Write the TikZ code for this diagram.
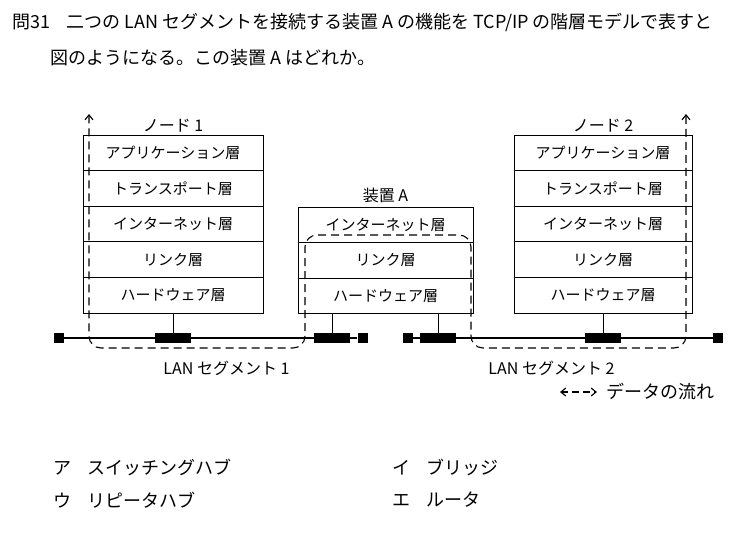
\documentclass[tikz,border=0pt]{standalone}
\usepackage{fontspec}
\setmainfont{Noto Sans CJK JP}
\usetikzlibrary{positioning,arrows.meta}
\tikzset{
  layer/.style={draw, minimum width=180pt, minimum height=35.6pt, inner sep=0pt,
    font=\fontsize{15}{15}\selectfont},
  tap/.style={fill=black, minimum width=36pt, minimum height=10pt, inner sep=0pt},
  stub/.style={fill=black, minimum size=10pt, inner sep=0pt},
  flow/.style={dash pattern=on 8pt off 5pt, line width=1.1pt,
    arrows={Straight Barb[length=5pt,width=8pt]-Straight Barb[length=5pt,width=8pt]}},
  bus/.style={line width=1.6pt},
  txt/.style={font=\fontsize{16}{16}\selectfont, inner sep=0pt},
  big/.style={font=\fontsize{18}{18}\selectfont, inner sep=0pt}
}

\begin{document}
\begin{tikzpicture}[x=1pt, y=-1pt, line width=0.9pt]
\useasboundingbox (0,0) rectangle (740,544);
% question
\node[big, anchor=west] (q1) at (12,22) {問31\hspace{0.9em}二つの LAN セグメントを接続する装置 A の機能を TCP/IP の階層モデルで表すと};
\node[big, anchor=west] (q2) at (50,58) {図のようになる。この装置 A はどれか。};
% node 1 and node 2
\foreach \name [count=\i] in {アプリケーション層,トランスポート層,インターネット層,リンク層,ハードウェア層} {
  \node[layer] (n1-\i) at (173,{117.2+\i*35.6}) {\name};
  \node[layer, minimum width=178pt] (n2-\i) at (603,{117.2+\i*35.6}) {\name};
}
\node[txt, above=2pt of n1-1] (n1-lbl) {ノード 1};
\node[txt, above=2pt of n2-1] (n2-lbl) {ノード 2};
% device A
\foreach \name [count=\i] in {インターネット層,リンク層,ハードウェア層}
  \node[layer, minimum width=175pt] (a-\i) at (385.5,{189.2+\i*35.6}) {\name};
\node[txt, above=3pt of a-1] (a-lbl) {装置 A};
% LAN segments
\node[stub] (s1) at (59,338) {};
\node[stub] (sa1) at (362.5,338) {};
\node[stub] (sa2) at (408,338) {};
\node[stub] (s2) at (718,338) {};
\draw[bus] (s1) -- (sa1);
\draw[bus] (sa2) -- (s2);
\node[tap] (t1) at (173,338) {};
\node[tap] (ta1) at (332,338) {};
\node[tap] (ta2) at (438,338) {};
\node[tap] (t2) at (603,338) {};
\draw (n1-5) -- (t1);
\draw (a-3.south -| ta1) -- (ta1);
\draw (a-3.south -| ta2) -- (ta2);
\draw (n2-5) -- (t2);
\node[txt] (seg1) at (226.5,368) {LAN セグメント 1};
\node[txt] (seg2) at (551.5,368) {LAN セグメント 2};
% data flow
\coordinate (f1) at (89,114);
\coordinate (f2) at (686,114);
\draw[flow, rounded corners=12pt] (f1) -- (89,348) -- (305,348) -- (305,235)
  -- (471,235) -- (471,348) -- (686,348) -- (f2);
\coordinate (lg1) at (560,392);
\coordinate (lg2) at (597,392);
\draw[flow, dash pattern=on 7pt off 4pt] (lg1) -- (lg2);
\node[big, anchor=west] (lgt) at (606,392) {データの流れ};
% answers
\node[big, anchor=west] (ans-a) at (53,467) {ア\hspace{0.9em}スイッチングハブ};
\node[big, anchor=west] (ans-b) at (392,467) {イ\hspace{0.9em}ブリッジ};
\node[big, anchor=west] (ans-c) at (53,500) {ウ\hspace{0.9em}リピータハブ};
\node[big, anchor=west] (ans-d) at (392,500) {エ\hspace{0.9em}ルータ};
\end{tikzpicture}
\end{document}
